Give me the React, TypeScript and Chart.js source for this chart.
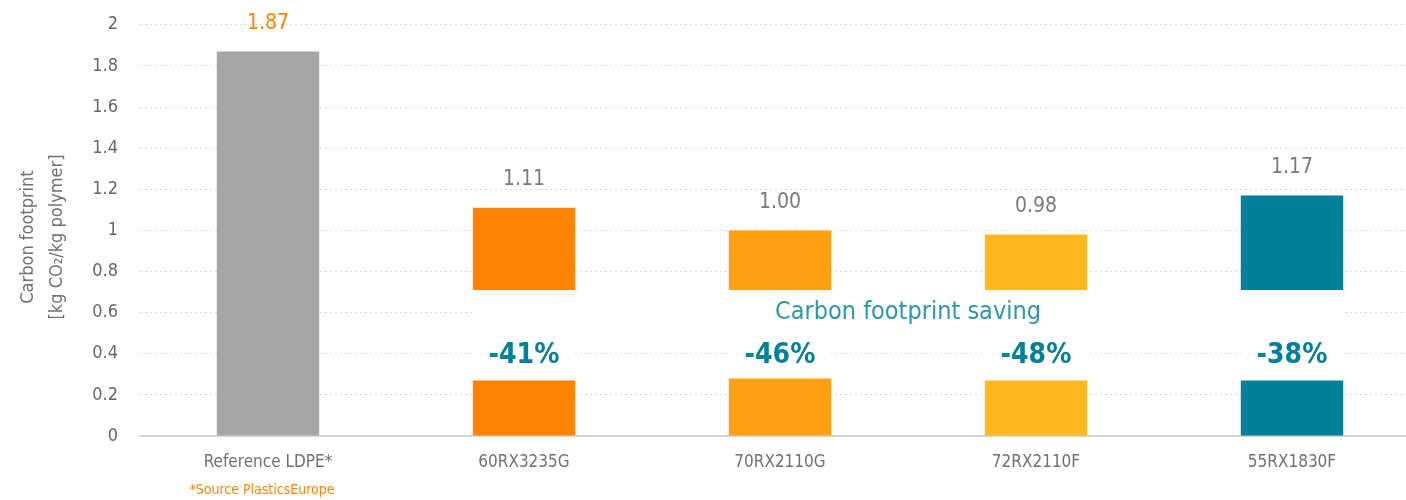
import React, { useEffect, useRef } from "react";
import { Chart, registerables } from "chart.js";

Chart.register(...registerables);

const categories = ["Reference LDPE*", "60RX3235G", "70RX2110G", "72RX2110F", "55RX1830F"];
const footprint = [1.87, 1.11, 1.0, 0.98, 1.17];
const breakFrom: (number | null)[] = [null, 0.27, 0.28, 0.27, 0.27];
const breakTo: (number | null)[] = [null, 0.71, 0.71, 0.71, 0.71];
const savings: (number | null)[] = [null, -41, -46, -48, -38];
const barColors = ["#A6A6A6", "#FF8200", "#FFA012", "#FFB81E", "#00809B"];
const valueLabelColors = ["#FF8200", "#7A7A7A", "#7A7A7A", "#7A7A7A", "#7A7A7A"];
const savingsTitle = "Carbon footprint saving";
const sourceNote = "*Source PlasticsEurope";
const yTitle = ["Carbon footprint", "[kg CO\u2082/kg polymer]"];
const savingsLabelValue = 0.39;
const savingsTitleValue = 0.6;

const FONT = "'Liberation Sans Narrow', 'DejaVu Sans Condensed', Roboto, sans-serif";
const SHIFT = 8;

const overlayPlugin = {
  id: "overlay",
  beforeDatasetsDraw(chart: any) {
    const ctx = chart.ctx;
    const y = chart.scales.y;
    const meta = chart.getDatasetMeta(1);
    ctx.save();
    ctx.fillStyle = "#ffffff";
    const first = meta.data[1];
    const last = meta.data[4];
    const l = first.x - first.width / 2;
    const r = last.x + last.width / 2;
    const ty = y.getPixelForValue(savingsTitleValue);
    ctx.fillRect(l, ty - 14, r - l, 28);
    savings.forEach((s, i) => {
      if (s == null) return;
      const el = meta.data[i];
      const py = y.getPixelForValue(savingsLabelValue);
      ctx.fillRect(el.x - el.width / 2, py - 14, el.width, 28);
    });
    ctx.restore();
  },
  afterDatasetsDraw(chart: any) {
    const ctx = chart.ctx;
    const y = chart.scales.y;
    const meta = chart.getDatasetMeta(0);
    ctx.save();
    ctx.textAlign = "center";
    ctx.textBaseline = "middle";
    footprint.forEach((v, i) => {
      const el = meta.data[i];
      ctx.fillStyle = valueLabelColors[i];
      ctx.font = `21px ${FONT}`;
      ctx.fillText(v.toFixed(2), el.x, y.getPixelForValue(v) - 28);
    });
    savings.forEach((s, i) => {
      if (s == null) return;
      const el = meta.data[i];
      ctx.fillStyle = "#00809B";
      ctx.font = `bold 28px ${FONT}`;
      ctx.fillText(`${s}%`, el.x, y.getPixelForValue(savingsLabelValue));
    });
    const m1 = chart.getDatasetMeta(1);
    const cx = (m1.data[1].x - m1.data[1].width / 2 + m1.data[4].x + m1.data[4].width / 2) / 2;
    ctx.fillStyle = "#2A97AA";
    ctx.font = `25px ${FONT}`;
    ctx.fillText(savingsTitle, cx, y.getPixelForValue(savingsTitleValue));
    ctx.restore();
  },
  afterDraw(chart: any) {
    const ctx = chart.ctx;
    const meta = chart.getDatasetMeta(0);
    ctx.save();
    ctx.textAlign = "center";
    ctx.textBaseline = "middle";
    ctx.fillStyle = "#FF8200";
    ctx.font = `14px ${FONT}`;
    ctx.fillText(sourceNote, meta.data[0].x - 6, 490 + SHIFT);
    ctx.fillStyle = "#707070";
    ctx.font = `18px ${FONT}`;
    const cy = 237 + SHIFT;
    ctx.translate(0, cy);
    ctx.rotate(-Math.PI / 2);
    ctx.fillText(yTitle[0], 0, 28);
    ctx.fillText(yTitle[1], 0, 57);
    ctx.restore();
  },
};

export default function App() {
  const ref = useRef<HTMLCanvasElement>(null);
  useEffect(() => {
    document.body.style.margin = "0";
    document.body.style.overflow = "hidden";
    const lower = categories.map((_, i) => [0, breakFrom[i] ?? footprint[i]]);
    const upper = categories.map((_, i) =>
      breakFrom[i] == null ? null : [breakTo[i] as number, footprint[i]]
    );
    const chart = new Chart(ref.current!, {
      type: "bar",
      data: {
        labels: categories,
        datasets: [
          { label: "lower", data: lower as any, backgroundColor: barColors, barPercentage: 0.4, categoryPercentage: 1 },
          { label: "upper", data: upper as any, backgroundColor: barColors, barPercentage: 0.4, categoryPercentage: 1 },
        ],
      },
      options: {
        animation: false,
        responsive: false,
        layout: { padding: { top: 14, left: 0, right: 0, bottom: 0 } },
        plugins: { legend: { display: false }, tooltip: { enabled: false } },
        scales: {
          x: {
            stacked: true,
            grid: { display: false, drawTicks: false },
            border: { display: true, color: "#D3D3D3", width: 2 },
            ticks: { color: "#707070", font: { family: FONT, size: 17 }, padding: 16 },
            afterFit: (s: any) => { s.height = 64; },
          },
          y: {
            min: 0,
            max: 2,
            ticks: {
              stepSize: 0.2,
              color: "#666666",
              font: { family: FONT, size: 18 },
              padding: 22,
              callback: (v: any) => String(Math.round(Number(v) * 10) / 10),
            },
            grid: { color: "#D9D9D9", drawTicks: false, lineWidth: 1 },
            border: { display: false, dash: [2, 3] },
            afterFit: (s: any) => { s.width = 140; },
          },
        },
      },
      plugins: [overlayPlugin],
    });
    return () => chart.destroy();
  }, []);
  return (
    <div style={{ width: 1420, height: 500, overflow: "hidden" }}>
      <canvas ref={ref} width={1420} height={500 + SHIFT} style={{ display: "block", marginTop: -SHIFT }} />
    </div>
  );
}
